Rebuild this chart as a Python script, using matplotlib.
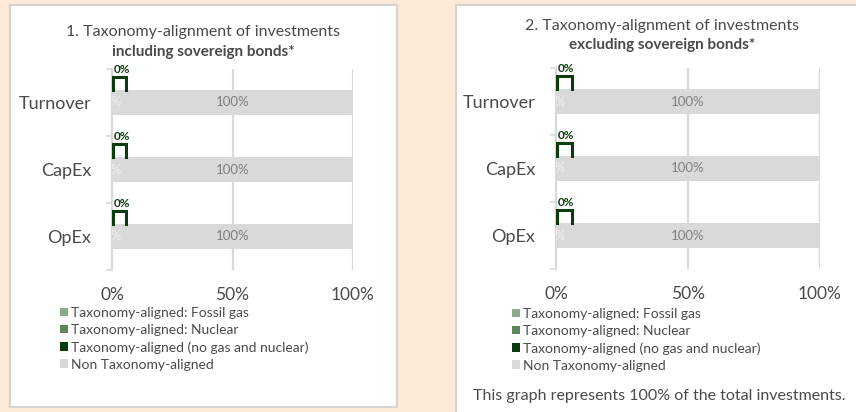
import matplotlib
matplotlib.use("Agg")
import matplotlib.pyplot as plt
from matplotlib.patches import Rectangle, Patch

plt.rcParams['font.family'] = ['Lato', 'DejaVu Sans']

categories = ["Turnover", "CapEx", "OpEx"]
series_labels = ["Taxonomy-aligned: Fossil gas", "Taxonomy-aligned: Nuclear",
                 "Taxonomy-aligned (no gas and nuclear)", "Non Taxonomy-aligned"]
series_colors = ["#8FA98F", "#5E8460", "#0B3B0E", "#D9D9D9"]
incl_fossil = [0, 0, 0]
incl_nuclear = [0, 0, 0]
incl_aligned = [0, 0, 0]
incl_non = [100, 100, 100]
excl_fossil = [0, 0, 0]
excl_nuclear = [0, 0, 0]
excl_aligned = [0, 0, 0]
excl_non = [100, 100, 100]
xticks = [0, 50, 100]
xtick_labels = ["0%", "50%", "100%"]
title1 = "1. Taxonomy-alignment of investments"
title1b = "including sovereign bonds*"
title2 = "2. Taxonomy-alignment of investments"
title2b = "excluding sovereign bonds*"
footnote = "This graph represents 100% of the total investments."

W, H = 856, 412
fig = plt.figure(figsize=(W / 100, H / 100), dpi=100)
fig.patch.set_facecolor("#FCE9D8")

TXT = "#4A4A4A"

def fx(x):
    return x / W

def fy(y):
    return 1 - y / H

# panels
for (x0, y0, x1, y1) in [(10, 5, 397, 407), (456, 5, 870, 420)]:
    fig.patches.append(Rectangle((fx(x0), fy(y1)), fx(x1 - x0), (y1 - y0) / H,
                                 transform=fig.transFigure, facecolor="white",
                                 edgecolor="#D6D3D0", linewidth=1.5, zorder=-5))

GRID = "#D9D9D9"

def draw_panel(x0, x1, ytop, ybot, fossil, nuclear, aligned, non, t1, t1b, tcx, ty1, ty2,
               legx, legy):
    ax = fig.add_axes([fx(x0), fy(ybot), fx(x1 - x0), (ybot - ytop) / H])
    ax.set_facecolor("none")
    n = len(categories)
    ypos = list(range(n))
    h = 0.36
    left = [0] * n
    for vals, col in zip([fossil, nuclear, aligned, non], series_colors):
        ax.barh(ypos, vals, left=left, height=h, color=col, zorder=3)
        left = [l + v for l, v in zip(left, vals)]
    ax.set_xlim(0, 100)
    ax.set_ylim(n - 0.5, -0.5)
    for xv in xticks[1:]:
        ax.axvline(xv, color=GRID, lw=1.6, zorder=1)
    for s in ["top", "right", "bottom"]:
        ax.spines[s].set_visible(False)
    ax.spines["left"].set_color(GRID)
    ax.spines["left"].set_linewidth(1.6)
    ax.set_yticks(ypos)
    ax.set_yticklabels(categories, fontsize=13, color=TXT)
    ax.tick_params(axis="y", which="major", length=0, pad=15)
    ax.set_yticks([y - 0.5 for y in range(n + 1)], minor=True)
    ax.tick_params(axis="y", which="minor", length=4, color=GRID, width=1.2)
    ax.set_xticks(xticks)
    ax.set_xticklabels(xtick_labels, fontsize=12.5, color=TXT)
    ax.tick_params(axis="x", length=0, pad=12)
    for i in ypos:
        # in-bar labels
        ax.text(non[i] / 2 + left[i] - non[i], i, f"{non[i]:.0f}%", ha="center", va="center",
                fontsize=9.5, color="#7F7F7F", zorder=5)
        ax.text(fossil[i] + 0.3, i, f"{fossil[i]:.0f}%", ha="center", va="center",
                fontsize=9, color="#EFEFEF", zorder=5, clip_on=True)
        # callout for aligned share
        top = i - h / 2
        bw = 6.0
        ax.plot([aligned[i] + 0.3, aligned[i] + 0.3, aligned[i] + bw, aligned[i] + bw],
                [top, top - 0.2, top - 0.2, top], color=series_colors[2], lw=2.2,
                zorder=6, solid_joinstyle="miter", clip_on=False)
        ax.text(aligned[i] + 0.6, top - 0.255, f"{aligned[i]:.0f}%", ha="left", va="baseline",
                fontsize=8.5, fontweight="bold", color=series_colors[2], zorder=6)
    fig.text(fx(tcx), fy(ty1), t1, ha="center", va="center", fontsize=11.5, color=TXT)
    fig.text(fx(tcx), fy(ty2), t1b, ha="center", va="center", fontsize=11,
             fontweight="bold", color=TXT)
    handles = [Patch(facecolor=c, edgecolor="none") for c in series_colors]
    fig.legend(handles, series_labels, loc="upper left",
               bbox_to_anchor=(fx(legx), fy(legy)), frameon=False, fontsize=10,
               labelcolor=TXT, handlelength=0.58, handleheight=0.58,
               handletextpad=0.2, labelspacing=0.36, borderpad=0, borderaxespad=0)
    return ax

draw_panel(112, 353, 69, 270, incl_fossil, incl_nuclear, incl_aligned, incl_non,
           title1, title1b, 203, 32, 52, 60, 307)
draw_panel(556, 820, 68, 269, excl_fossil, excl_nuclear, excl_aligned, excl_non,
           title2, title2b, 662, 26, 45, 512, 308)

fig.text(fx(659), fy(396), footnote, ha="center", va="center", fontsize=11.5, color=TXT)

fig.savefig("out.png", dpi=100, facecolor=fig.get_facecolor())
